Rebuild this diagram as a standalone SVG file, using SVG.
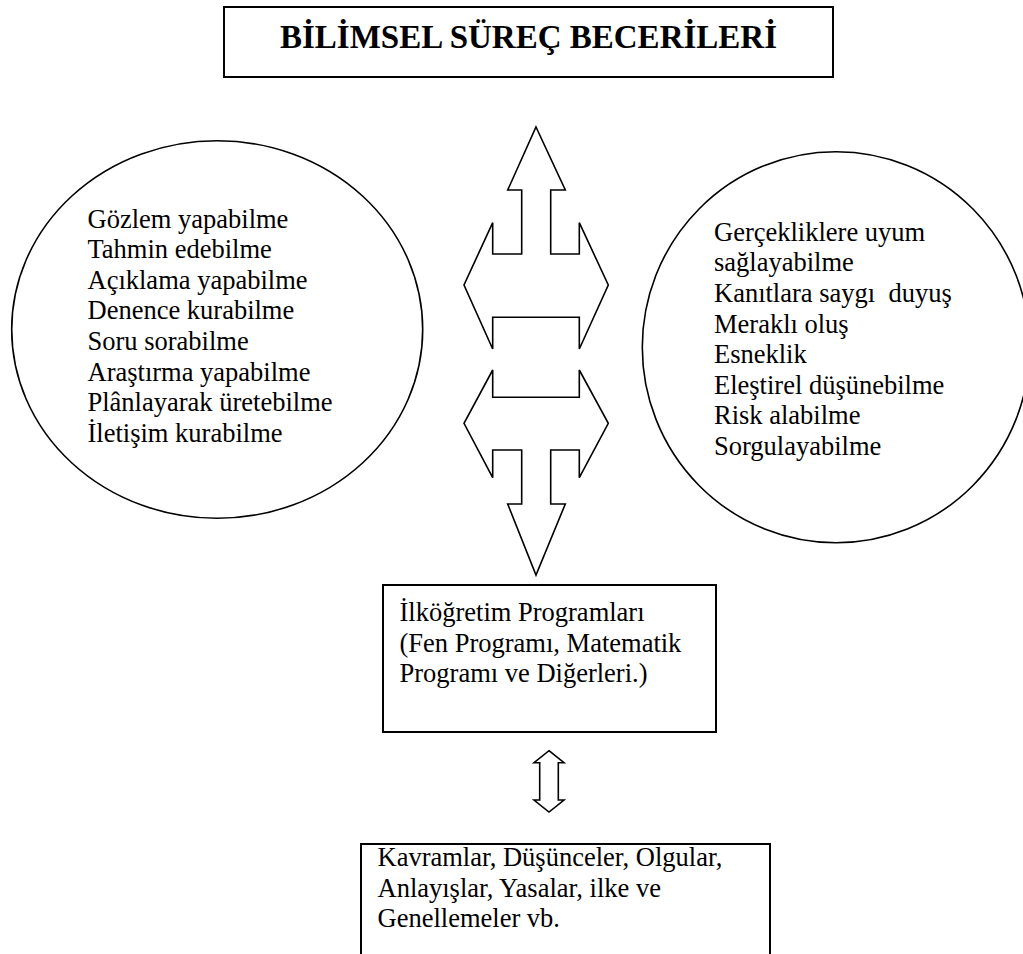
<svg xmlns="http://www.w3.org/2000/svg" width="1023" height="954" viewBox="0 0 1023 954">
<style>
  .box { fill: #ffffff; stroke: #000000; stroke-width: 2; }
  .ell { fill: #ffffff; stroke: #000000; stroke-width: 1.6; }
  .arr { fill: #ffffff; stroke: #000000; stroke-width: 1.6; stroke-linejoin: miter; }
  .t { font-family: "Liberation Serif", "Times New Roman", "DejaVu Serif", serif; font-size: 26.5px; fill: #000000; }
  .title { font-family: "Liberation Serif", "Times New Roman", "DejaVu Serif", serif; font-size: 33px; font-weight: bold; fill: #000000; }
</style>
<rect x="0" y="0" width="1023" height="954" fill="#ffffff"/>

<g id="title">
  <rect class="box" x="224" y="7" width="609" height="70"/>
  <text class="title" x="528.5" y="48" text-anchor="middle">BİLİMSEL SÜREÇ BECERİLERİ</text>
</g>

<g id="skills">
  <ellipse class="ell" cx="217.2" cy="329.5" rx="205.5" ry="188.8"/>
  <text class="t" x="87.5" y="227.5">Gözlem yapabilme</text>
  <text class="t" x="87.5" y="258.1">Tahmin edebilme</text>
  <text class="t" x="87.5" y="288.7">Açıklama yapabilme</text>
  <text class="t" x="87.5" y="319.3">Denence kurabilme</text>
  <text class="t" x="87.5" y="349.9">Soru sorabilme</text>
  <text class="t" x="87.5" y="380.5">Araştırma yapabilme</text>
  <text class="t" x="87.5" y="411.1">Plânlayarak üretebilme</text>
  <text class="t" x="87.5" y="441.7">İletişim kurabilme</text>
</g>

<g id="attitudes">
  <ellipse class="ell" cx="836" cy="347.2" rx="193.7" ry="195.5"/>
  <text class="t" x="714" y="240.7">Gerçekliklere uyum</text>
  <text class="t" x="714" y="271.3">sağlayabilme</text>
  <text class="t" x="714" y="301.9" xml:space="preserve">Kanıtlara saygı  duyuş</text>
  <text class="t" x="714" y="332.5">Meraklı oluş</text>
  <text class="t" x="714" y="363.1">Esneklik</text>
  <text class="t" x="714" y="393.7">Eleştirel düşünebilme</text>
  <text class="t" x="714" y="424.3">Risk alabilme</text>
  <text class="t" x="714" y="454.9">Sorgulayabilme</text>
</g>

<g id="programs">
  <rect class="box" x="383" y="585" width="333" height="147"/>
  <text class="t" x="399.5" y="621">İlköğretim Programları</text>
  <text class="t" x="399.5" y="651.6">(Fen Programı, Matematik</text>
  <text class="t" x="399.5" y="682.2">Programı ve Diğerleri.)</text>
</g>

<g id="concepts">
  <rect class="box" x="361" y="844" width="409" height="130"/>
  <text class="t" x="377.5" y="866">Kavramlar, Düşünceler, Olgular,</text>
  <text class="t" x="377.5" y="896.6">Anlayışlar, Yasalar, ilke ve</text>
  <text class="t" x="377.5" y="927.2">Genellemeler vb.</text>
</g>

<g id="connectors">
  <polygon class="arr" points="536,127 565.3,190 550.7,190 550.7,254 579.3,254 579.3,222.7 608.3,285 579.3,349 579.3,317.3 492.7,317.3 492.7,349 464,285 492.7,222.7 492.7,254 521.7,254 521.7,190 507.7,190"/>
  <polygon class="arr" points="492.7,370 492.7,397.3 579.3,397.3 579.3,370 608.3,423.3 579.3,477.7 579.3,450 550.7,450 550.7,504 565.3,504 536,575 507.7,504 521.7,504 521.7,450 492.7,450 492.7,477.7 464,423.3"/>
  <polygon class="arr" points="549,750.7 564,762.7 558.3,762.7 558.3,800 564,800 549,812 534,800 539.7,800 539.7,762.7 534,762.7"/>
</g>
</svg>
